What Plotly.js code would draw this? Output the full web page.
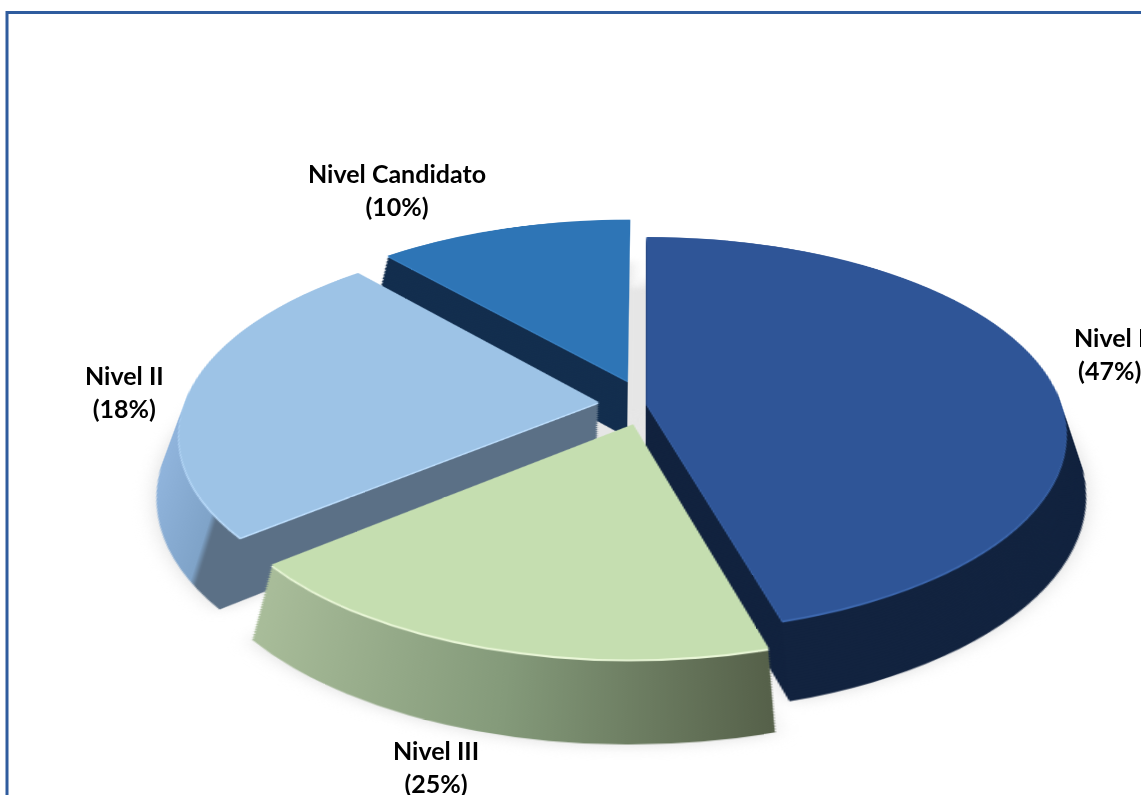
<!DOCTYPE html>
<html><head><meta charset="utf-8">
<script src="https://cdn.plot.ly/plotly-3.0.1.min.js"></script>
<style>html,body{margin:0;background:#fff;overflow:hidden}#c{width:1141px;height:795px}</style>
</head><body><div id="c"></div>
<script>
const labels=['Nivel I','Nivel III','Nivel II','Nivel Candidato'];
const labelPercents=[47,25,18,10];
const sliceShares=[45.5,18.5,24.5,11.5];
const pulls=[0.0,0.108,0.115,0.13];
const topColors=['#2F5597','#C5DEB0','#9DC3E6','#2E75B6'];
const rimColors=['#3E69B0','#EAF7D8','#BFE0FF','#3A82C4'];
const sideColors=['#12233F','#85967A','#5B7086','#132E4E'];
const shadowColors=['#dcdcdc','#dcdcdc','#dcdcdc','#dcdcdc'];
const fillerColors=['#e6e6e6','#e6e6e6','#e6e6e6','#e6e6e6'];
const layers=30, step=0.0035, size=0.84, wx=size*795/1141;
function pie(k,colors,name,pull){
  const y0=k*step;
  return {type:'pie',values:sliceShares,labels:labels,sort:false,direction:'clockwise',rotation:0,pull:pull||pulls,
    textinfo:'none',hoverinfo:'label',showlegend:false,name:name,
    marker:{colors:colors,line:{width:0}},
    domain:{x:[0.5-wx/2,0.5+wx/2],y:[y0,y0+size]}};
}
const shadow=pie(0,shadowColors,'shadow');
const filler=pie(0,fillerColors,'filler',[0,0,0,0]);
filler.domain={x:[0.5-wx*0.34,0.5+wx*0.34],y:[0.5*size-size*0.34+0.07,0.5*size+size*0.34+0.07]};
const traces=[shadow,filler];
for(let k=0;k<layers;k++) traces.push(pie(k,sideColors,'side'));
traces.push(pie(layers,rimColors,'rim'));
traces.push(pie(layers+0.8,topColors,'top'));
const annot=(i,x,y)=>({xref:'paper',yref:'paper',x:x/1141,y:1-y/795,showarrow:false,xanchor:'center',yanchor:'middle',
  text:'<b>'+labels[i]+'<br>('+labelPercents[i]+'%)</b>',font:{family:'Lato, Carlito, sans-serif',size:25,color:'#000'},align:'center'});
const layout={width:1141,height:795,margin:{l:0,r:0,t:0,b:0},paper_bgcolor:'rgba(0,0,0,0)',plot_bgcolor:'rgba(0,0,0,0)',
  annotations:[annot(0,1109,353),annot(1,436,766),annot(2,124,391),annot(3,397,190)],
  shapes:[{type:'rect',xref:'paper',yref:'paper',x0:7/1141,x1:1.1,y0:-0.1,y1:1-12.5/795,line:{color:'#2F5C9E',width:3},fillcolor:'rgba(0,0,0,0)',layer:'above'}]};
Plotly.newPlot('c',traces,layout,{displayModeBar:false,staticPlot:true}).then(()=>{
  const svg=document.querySelector('#c .main-svg');
  svg.style.transformOrigin='50% 50%';
  svg.style.transform='translate(76px,21px) perspective(2400px) rotateX(62deg) scale(1.42,1.42)';
  svg.style.overflow='visible';
  const ns='http://www.w3.org/2000/svg';
  const defs=document.createElementNS(ns,'defs');
  const grad=(id,stops)=>{const g=document.createElementNS(ns,'linearGradient');g.id=id;
    stops.forEach(s=>{const t=document.createElementNS(ns,'stop');t.setAttribute('offset',s[0]);t.setAttribute('stop-color',s[1]);g.appendChild(t);});defs.appendChild(g);};
  grad('gIII',[[0,'#A9BD9A'],[0.5,'#849A7A'],[1,'#556049']]);
  grad('gII',[[0,'#90B4DC'],[0.15,'#7FA3C8'],[0.165,'#5B7086'],[1,'#5B7086']]);
  svg.appendChild(defs);
  const groups=document.querySelectorAll('#c .pielayer .trace');
  groups.forEach((g,idx)=>{
    const ps=g.querySelectorAll('.slice path.surface');
    if(idx===0){g.style.filter='blur(7px)';}
    if(idx===1){g.style.filter='blur(5px)';}
    if(idx>=2&&idx<2+layers){ps[1].style.fill='url(#gIII)';ps[2].style.fill='url(#gII)';}
  });
});
</script></body></html>
